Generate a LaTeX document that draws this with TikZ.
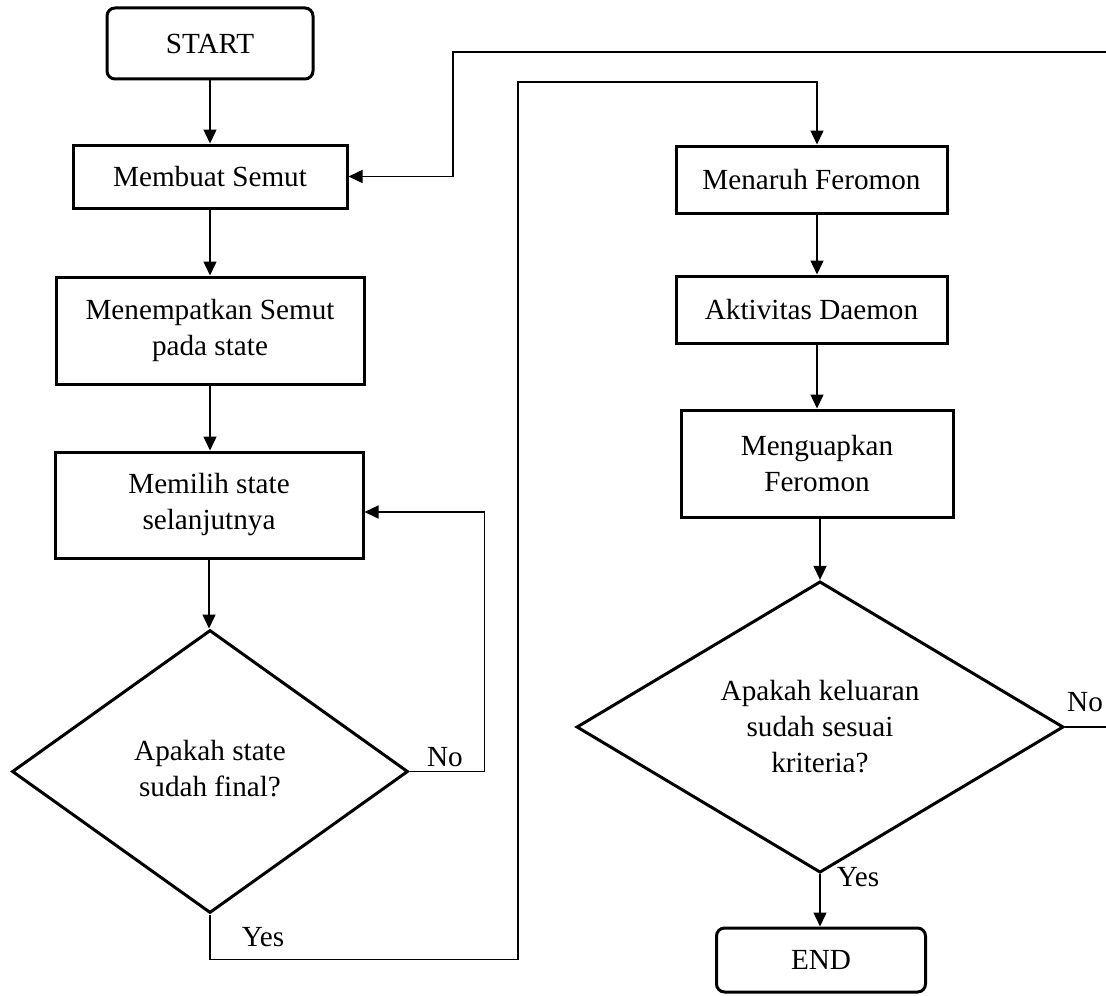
\documentclass[tikz,border=0pt]{standalone}
\usepackage{fontspec}
\setmainfont{Liberation Serif}
\usetikzlibrary{shapes.geometric,arrows.meta}
\begin{document}
\begin{tikzpicture}[x=0.5pt,y=-0.5pt,
  every node/.style={font=\fontsize{14.6}{18}\selectfont},
  procbox/.style={draw, line width=1.5pt, inner sep=0pt, align=center},
  termbox/.style={procbox, rounded corners=4pt},
  decbox/.style={draw, diamond, line width=1.5pt, inner sep=0pt, align=center},
  arr/.style={-{Triangle[length=7pt,width=6.5pt]}, line width=0.75pt},
  conn/.style={line width=0.75pt},
  lbl/.style={inner sep=0pt}]
\useasboundingbox (0,0) rectangle (1106,995);
% left column
\node[termbox, minimum width=103pt, minimum height=35.5pt] (start) at (210,43.5) {START};
\node[procbox, minimum width=137pt, minimum height=31.5pt] (membuat) at (210,176.5) {Membuat Semut};
\node[procbox, minimum width=154pt, minimum height=53.5pt] (menempatkan) at (210,330.5) {Menempatkan Semut\\pada state};
\node[procbox, minimum width=154pt, minimum height=53pt] (memilih) at (209,505) {Memilih state\\selanjutnya};
\node[decbox, minimum width=198pt, minimum height=141.5pt] (dec1) at (210,771.5) {\raisebox{3.5pt}{\begin{tabular}{@{}c@{}}Apakah state\\sudah final?\end{tabular}}};
% right column
\node[procbox, minimum width=135.5pt, minimum height=33.5pt] (menaruh) at (811.5,179.5) {Menaruh Feromon};
\node[procbox, minimum width=135.5pt, minimum height=33.5pt] (aktivitas) at (811.5,309.5) {Aktivitas Daemon};
\node[procbox, minimum width=136pt, minimum height=53.5pt] (menguapkan) at (817,463.5) {Menguapkan\\Feromon};
\node[decbox, minimum width=243.5pt, minimum height=135pt] (dec2) at (820,727) {Apakah keluaran\\sudah sesuai\\kriteria?};
\node[termbox, minimum width=104.5pt, minimum height=32pt] (end) at (821,960) {END};
% free ends at the picture edge
\coordinate (topR) at (1106,52);
\coordinate (noR) at (1106,727);
% labels
\node[lbl] (no1) at (445,757) {No};
\node[lbl] (yes1) at (263,937) {Yes};
\node[lbl] (no2) at (1085,702) {No};
\node[lbl] (yes2) at (858,877) {Yes};
% connectors
\draw[arr] (start) -- (membuat);
\draw[arr] (membuat) -- (menempatkan);
\draw[arr] (menempatkan) -- (memilih.north -| menempatkan.south);
\draw[arr] (memilih.south) -- (memilih.south |- dec1.north);
\draw[arr] (dec1.east) -- ++(75,0) |- ([yshift=-3.5pt]memilih.east);
\draw[arr] (dec1.south) -- ++(0,45) -| (518,82) -| ([xshift=2.75pt]menaruh.north);
\draw[arr] ([xshift=2.75pt]menaruh.south) -- ([xshift=2.75pt]aktivitas.north);
\draw[arr] ([xshift=2.75pt]aktivitas.south) -- (menguapkan.north);
\draw[arr] (menguapkan.south -| dec2.north) -- (dec2.north);
\draw[arr] (dec2.south) -- (dec2.south |- end.north);
\draw[conn] (dec2.east) -- (noR);
\draw[arr] (topR) -- (453,52) |- (membuat.east);
\end{tikzpicture}
\end{document}
